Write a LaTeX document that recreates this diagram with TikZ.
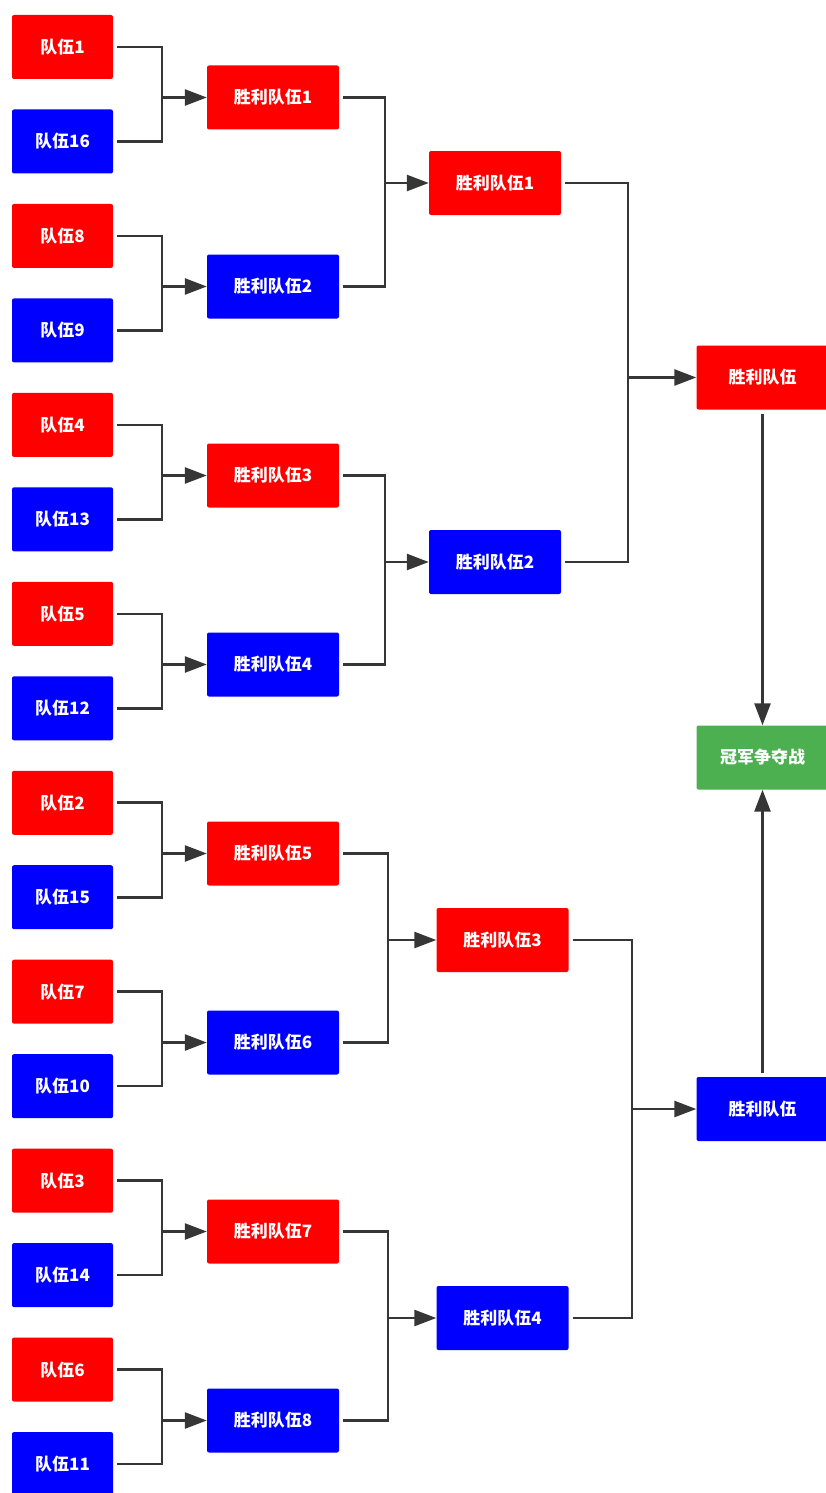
\documentclass[tikz,border=0pt]{standalone}
\usepackage{fontspec}
\newfontfamily\cjk{Noto Sans CJK SC}
\usetikzlibrary{arrows.meta}
\definecolor{teamred}{HTML}{FF0000}
\definecolor{teamblue}{HTML}{0000FF}
\definecolor{finalgreen}{HTML}{4CAF50}
\definecolor{wirecol}{HTML}{363636}
\tikzset{
  box/.style={rounded corners=2pt, minimum height=64pt, inner sep=0pt,
    text=white, font=\cjk\bfseries\fontsize{17}{19}\selectfont},
  seed/.style={box, minimum width=101pt},
  winner/.style={box, minimum width=132pt},
  redbox/.style={fill=teamred},
  bluebox/.style={fill=teamblue},
  greenbox/.style={fill=finalgreen},
  wire/.style={draw=wirecol, line width=2.6pt, shorten <=4pt},
  feed/.style={draw=wirecol, line width=2.6pt, -{Triangle[length=22pt,width=16pt]}},
}
\begin{document}
\begin{tikzpicture}[x=1pt,y=-1pt]
\useasboundingbox (0,0) rectangle (826,1493);

% first round: sixteen seeded teams
\foreach \n/\lab/\col [count=\k from 0] in
  {1/1/redbox, 2/16/bluebox, 3/8/redbox, 4/9/bluebox,
   5/4/redbox, 6/13/bluebox, 7/5/redbox, 8/12/bluebox,
   9/2/redbox, 10/15/bluebox, 11/7/redbox, 12/10/bluebox,
   13/3/redbox, 14/14/bluebox, 15/6/redbox, 16/11/bluebox}
  \node[seed, \col] (t\n) at (62.5, 47+94.47*\k) {队伍\lab};

% second round winners
\foreach \n/\col [count=\k from 0] in
  {1/redbox, 2/bluebox, 3/redbox, 4/bluebox,
   5/redbox, 6/bluebox, 7/redbox, 8/bluebox}
  \node[winner, \col] (w\n) at (273, 97.5+189*\k) {胜利队伍\n};

% quarter-final winners
\node[winner, redbox]  (q1) at (495, 183)  {胜利队伍1};
\node[winner, bluebox] (q2) at (495, 562)  {胜利队伍2};
\node[winner, redbox]  (q3) at (502.5, 940)  {胜利队伍3};
\node[winner, bluebox] (q4) at (502.5, 1318) {胜利队伍4};

% semi-final winners and the final
\node[winner, redbox]   (s1) at (762.5, 377.5) {胜利队伍};
\node[winner, bluebox]  (s2) at (762.5, 1109)  {胜利队伍};
\node[winner, greenbox] (champ) at (762.5, 757.5) {冠军争夺战};

% junctions of the bracket lines
\foreach \n in {1,...,8}
  \coordinate (jw\n) at (162, 0 |- w\n.west);
\coordinate (jq1) at (385, 0 |- q1.west);
\coordinate (jq2) at (385, 0 |- q2.west);
\coordinate (jq3) at (388, 0 |- q3.west);
\coordinate (jq4) at (388, 0 |- q4.west);
\coordinate (js1) at (628, 0 |- s1.west);
\coordinate (js2) at (632, 0 |- s2.west);

% first round into second round
\foreach \n [evaluate=\n as \a using int(2*\n-1), evaluate=\n as \b using int(2*\n)] in {1,...,8} {
  \draw[wire] (t\a.east) -| (jw\n);
  \draw[wire] (t\b.east) -| (jw\n);
  \draw[feed] (jw\n) -- (w\n.west);
}

% second round into quarter-finals
\foreach \n [evaluate=\n as \a using int(2*\n-1), evaluate=\n as \b using int(2*\n)] in {1,...,4} {
  \draw[wire] (w\a.east) -| (jq\n);
  \draw[wire] (w\b.east) -| (jq\n);
  \draw[feed] (jq\n) -- (q\n.west);
}

% quarter-finals into semi-finals
\draw[wire] (q1.east) -| (js1);
\draw[wire] (q2.east) -| (js1);
\draw[feed] (js1) -- (s1.west);
\draw[wire] (q3.east) -| (js2);
\draw[wire] (q4.east) -| (js2);
\draw[feed] (js2) -- (s2.west);

% semi-finals into the final
\draw[feed, shorten <=4pt] (s1.south) -- (champ.north);
\draw[feed, shorten <=4pt] (s2.north) -- (champ.south);
\end{tikzpicture}
\end{document}
